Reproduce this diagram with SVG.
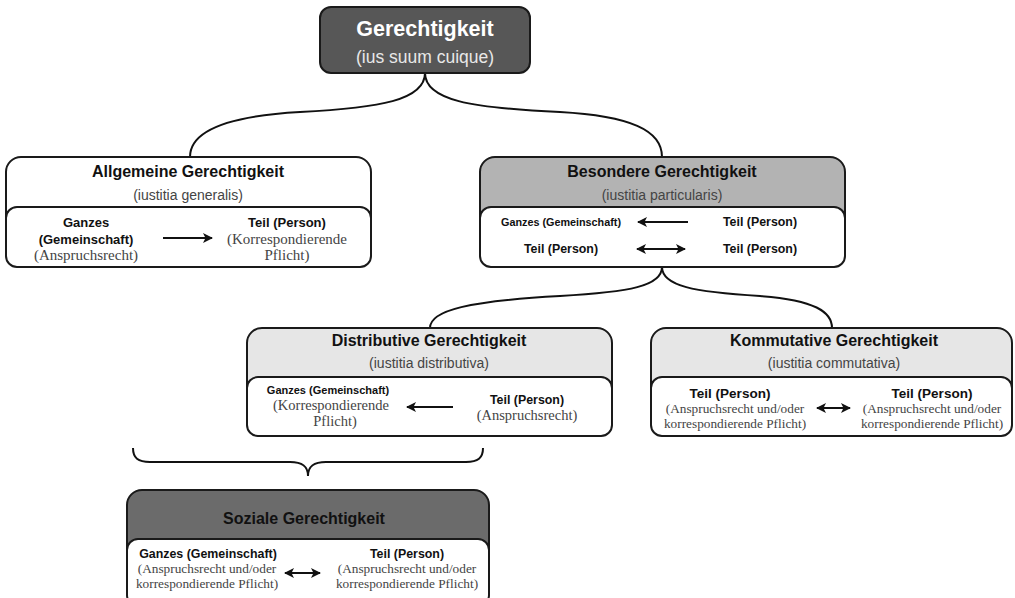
<svg xmlns="http://www.w3.org/2000/svg" width="1015" height="598" viewBox="0 0 1015 598">
<defs>
<marker id="ah" viewBox="0 0 10 10" refX="9" refY="5" markerWidth="10" markerHeight="10" markerUnits="userSpaceOnUse" orient="auto-start-reverse">
<path d="M0,0 L10,5 L0,10 L2.5,5 Z" fill="#111"/>
</marker>
<style>
.box{stroke:#1a1a1a;stroke-width:2}
.body{fill:#fff;stroke:#1a1a1a;stroke-width:2}
.title{font-family:"Liberation Sans",Arial,sans-serif;font-weight:bold;font-size:16px;fill:#111;text-anchor:middle}
.sub{font-family:"Liberation Sans",Arial,sans-serif;font-size:14px;fill:#444;text-anchor:middle}
.b{font-family:"Liberation Sans",Arial,sans-serif;font-weight:bold;font-size:12.4px;fill:#111;text-anchor:middle}
.s{font-family:"Liberation Serif","Times New Roman",serif;font-size:14.5px;fill:#444;text-anchor:middle}
.s2{font-family:"Liberation Serif","Times New Roman",serif;font-size:13.3px;fill:#444;text-anchor:middle}
.con{fill:none;stroke:#111;stroke-width:2}
.arr{stroke:#111;stroke-width:2;fill:none}
</style>
</defs>
<rect width="1015" height="598" fill="#fff"/>

<g id="connectors">
<path class="con" d="M425,73 C425,100 380,108 300,112 C230,116 190,130 190,157"/>
<path class="con" d="M425,73 C425,100 470,108 560,112 C630,116 662,130 662,157"/>
<path class="con" d="M662,267 C662,286 630,292 560,296 C470,301 430,310 430,328"/>
<path class="con" d="M662,267 C662,286 694,292 760,296 C815,300 832,312 832,328"/>
<path class="con" d="M133,448 C133,458 138,462 150,462 L290,462 C302,462 308,466 308,476 C308,466 314,462 326,462 L466,462 C478,462 483,458 483,448"/>
</g>

<g id="gerechtigkeit">
<rect class="box" x="320" y="7" width="210" height="66" rx="11" fill="#575757"/>
<text x="425" y="36" style="font-family:'Liberation Sans',Arial,sans-serif;font-weight:bold;font-size:21.5px;fill:#fff;text-anchor:middle">Gerechtigkeit</text>
<text x="425" y="63" style="font-family:'Liberation Sans',Arial,sans-serif;font-size:17.5px;fill:#e8e8e8;text-anchor:middle">(ius suum cuique)</text>
</g>

<g id="allgemeine">
<rect class="box" x="6" y="157" width="365" height="110" rx="15" fill="#fff"/>
<rect class="body" x="6" y="207" width="365" height="60" rx="11"/>
<text class="title" x="188" y="177">Allgemeine Gerechtigkeit</text>
<text class="sub" x="188" y="200">(iustitia generalis)</text>
<text class="b" x="86" y="227" style="font-size:13px">Ganzes</text>
<text class="b" x="86" y="244" style="font-size:13px">(Gemeinschaft)</text>
<text class="s" x="86" y="260" style="font-size:15px">(Anspruchsrecht)</text>
<line class="arr" x1="163" y1="238" x2="212" y2="238" marker-end="url(#ah)"/>
<text class="b" x="287" y="227" style="font-size:13px">Teil (Person)</text>
<text class="s" x="287" y="244" style="font-size:15px">(Korrespondierende</text>
<text class="s" x="287" y="260" style="font-size:15px">Pflicht)</text>
</g>

<g id="besondere">
<rect class="box" x="480" y="157" width="365" height="110" rx="15" fill="#b3b3b3"/>
<rect class="body" x="480" y="207" width="365" height="60" rx="11"/>
<text class="title" x="662" y="177">Besondere Gerechtigkeit</text>
<text class="sub" x="662" y="200">(iustitia particularis)</text>
<text class="b" x="561" y="226" style="font-size:10.8px">Ganzes (Gemeinschaft)</text>
<line class="arr" x1="688" y1="222" x2="638" y2="222" marker-end="url(#ah)"/>
<text class="b" x="760" y="226">Teil (Person)</text>
<text class="b" x="561" y="253">Teil (Person)</text>
<line class="arr" x1="637" y1="249" x2="685" y2="249" marker-start="url(#ah)" marker-end="url(#ah)"/>
<text class="b" x="760" y="253">Teil (Person)</text>
</g>

<g id="distributive">
<rect class="box" x="247" y="328" width="365" height="108" rx="15" fill="#e6e6e6"/>
<rect class="body" x="247" y="377" width="365" height="59" rx="11"/>
<text class="title" x="429" y="346">Distributive Gerechtigkeit</text>
<text class="sub" x="429" y="368">(iustitia distributiva)</text>
<text class="b" x="328" y="394" style="font-size:11px">Ganzes (Gemeinschaft)</text>
<text class="s" x="331" y="410">(Korrespondierende</text>
<text class="s" x="335" y="426">Pflicht)</text>
<line class="arr" x1="453" y1="407" x2="407" y2="407" marker-end="url(#ah)"/>
<text class="b" x="527" y="404">Teil (Person)</text>
<text class="s" x="527" y="420">(Anspruchsrecht)</text>
</g>

<g id="kommutative">
<rect class="box" x="651" y="328" width="361" height="108" rx="15" fill="#e6e6e6"/>
<rect class="body" x="651" y="377" width="361" height="59" rx="11"/>
<text class="title" x="834" y="346">Kommutative Gerechtigkeit</text>
<text class="sub" x="834" y="368">(iustitia commutativa)</text>
<text class="b" x="730" y="398" style="font-size:13.5px">Teil (Person)</text>
<text class="s2" x="735" y="413">(Anspruchsrecht und/oder</text>
<text class="s2" x="735" y="428">korrespondierende Pflicht)</text>
<line class="arr" x1="817" y1="408" x2="850" y2="408" marker-start="url(#ah)" marker-end="url(#ah)"/>
<text class="b" x="932" y="398" style="font-size:13.5px">Teil (Person)</text>
<text class="s2" x="932" y="413">(Anspruchsrecht und/oder</text>
<text class="s2" x="932" y="428">korrespondierende Pflicht)</text>
</g>

<g id="soziale">
<rect class="box" x="127" y="490" width="362" height="116" rx="15" fill="#6b6b6b"/>
<rect class="body" x="127" y="539" width="362" height="67" rx="11"/>
<text class="title" x="304" y="524">Soziale Gerechtigkeit</text>
<text class="b" x="208" y="558">Ganzes (Gemeinschaft)</text>
<text class="s2" x="207" y="573">(Anspruchsrecht und/oder</text>
<text class="s2" x="207" y="588">korrespondierende Pflicht)</text>
<line class="arr" x1="285" y1="573" x2="320" y2="573" marker-start="url(#ah)" marker-end="url(#ah)"/>
<text class="b" x="407" y="558">Teil (Person)</text>
<text class="s2" x="407" y="573">(Anspruchsrecht und/oder</text>
<text class="s2" x="407" y="588">korrespondierende Pflicht)</text>
</g>
</svg>
